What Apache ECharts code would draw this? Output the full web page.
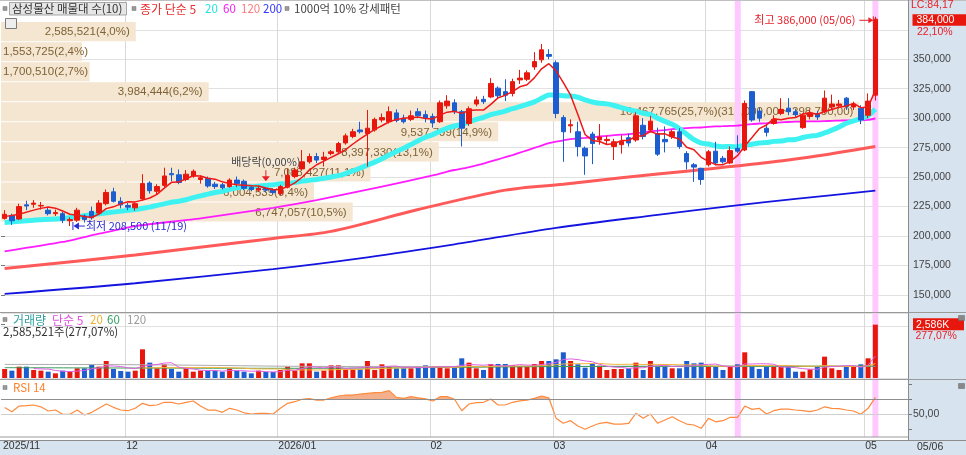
<!DOCTYPE html>
<html><head><meta charset="utf-8">
<script src="https://cdn.jsdelivr.net/npm/echarts@6.0.0/dist/echarts.min.js"></script>
<style>html,body{margin:0;padding:0;background:#fff;}#main{width:966px;height:455px;}</style>
</head><body><div id="main"></div>
<script>
// ---------- categories ----------
const dates = [
'2025-11-06','2025-11-07','2025-11-10','2025-11-11','2025-11-12','2025-11-13','2025-11-14','2025-11-17','2025-11-18','2025-11-19','2025-11-20','2025-11-21','2025-11-24','2025-11-25','2025-11-26','2025-11-27','2025-11-28',
'2025-12-01','2025-12-02','2025-12-03','2025-12-04','2025-12-05','2025-12-08','2025-12-09','2025-12-10','2025-12-11','2025-12-12','2025-12-15','2025-12-16','2025-12-17','2025-12-18','2025-12-19','2025-12-22','2025-12-23','2025-12-24','2025-12-26','2025-12-29','2025-12-30',
'2026-01-02','2026-01-05','2026-01-06','2026-01-07','2026-01-08','2026-01-09','2026-01-12','2026-01-13','2026-01-14','2026-01-15','2026-01-16','2026-01-19','2026-01-20','2026-01-21','2026-01-22','2026-01-23','2026-01-26','2026-01-27','2026-01-28','2026-01-29','2026-01-30',
'2026-02-02','2026-02-03','2026-02-04','2026-02-05','2026-02-06','2026-02-09','2026-02-10','2026-02-11','2026-02-12','2026-02-13','2026-02-19','2026-02-20','2026-02-23','2026-02-24','2026-02-25','2026-02-26','2026-02-27',
'2026-03-03','2026-03-04','2026-03-05','2026-03-06','2026-03-09','2026-03-10','2026-03-11','2026-03-12','2026-03-13','2026-03-16','2026-03-17','2026-03-18','2026-03-19','2026-03-20','2026-03-23','2026-03-24','2026-03-25','2026-03-26','2026-03-27','2026-03-30','2026-03-31',
'2026-04-01','2026-04-02','2026-04-03','2026-04-06','2026-04-07','2026-04-08','2026-04-09','2026-04-10','2026-04-13','2026-04-14','2026-04-15','2026-04-16','2026-04-17','2026-04-20','2026-04-21','2026-04-22','2026-04-23','2026-04-24','2026-04-27','2026-04-28','2026-04-29','2026-04-30',
'2026-05-04','2026-05-06'];
const monthLabels = ['2025/11','12','2026/01','02','03','04','05'];
const strongDays = ['2026-04-07','2026-05-06'];   // 1000억 10% 강세패턴
const exDividendDay = '2025-12-29';

// ---------- price [open, close, low, high] ----------
const ohlc = [
[215000,218500,214000,222000],[217500,213000,209500,219000],[214500,225000,213500,227500],[226500,225500,222000,230000],[227000,228000,224000,230500],
[225500,226000,222500,229000],[222000,219000,217500,224500],[219000,220000,217000,222500],[219000,213500,211000,220500],[213000,214000,208500,216000],
[213500,222000,212000,224000],[217000,214000,211500,218500],[221000,215500,214000,225000],[219500,228000,218500,230500],[227500,237000,226000,239500],
[237500,229500,228500,241000],[229500,226500,223500,233000],[226000,224500,222000,228000],[224000,227500,221500,229000],[231500,244500,230000,252500],
[245000,238500,236000,246500],[238000,242000,235000,244000],[243000,251000,241500,258000],[253000,252000,246500,258000],[252000,245500,244000,256500],
[248000,252500,246500,256000],[251000,255000,249500,256500],[248000,249500,244500,251500],[249000,242500,241000,250500],[244000,242000,240000,246000],
[243500,241000,239500,245000],[242000,247500,241000,249000],[247500,244500,241500,250500],[246500,240500,239000,248000],[241500,239500,238000,243000],
[239000,240500,237500,242500],[240500,239000,237000,241500],[239500,237000,235500,240500],[236000,242000,234500,243500],[241500,251500,240500,257000],
[250500,256000,249000,258000],[257000,263000,256000,273000],[263000,267500,261500,270000],[267500,264500,262000,270500],[265000,267000,259000,271500],
[270000,271500,268500,273000],[271500,278500,270500,280000],[279000,285000,277500,287000],[284500,288500,283000,291000],[290000,288500,287000,297000],
[287000,291500,259000,307000],[290000,299000,288500,300500],[298500,300500,296500,304000],[297000,305500,295500,310000],[304500,298000,296500,307500],
[300000,297000,295500,303000],[299000,302000,297500,306500],[305500,302000,300000,308500],[303000,300000,296500,306500],[301500,296000,292000,304000],
[297000,313000,296000,315000],[310500,314500,308000,319500],[313000,305500,303500,316000],[305500,291500,276000,307000],[295500,308000,293500,310000],
[312000,315500,310000,318500],[316000,314000,312000,319000],[318000,329500,317000,334000],[325500,319000,316500,327000],[322500,319500,314500,333000],
[321000,331000,318500,333500],[332500,334000,329000,341000],[333000,338500,331500,340500],[343500,348000,341000,356000],[349500,358000,347000,363000],
[354000,352500,350000,358500],[347000,304000,300000,349000],[300500,288500,263000,302500],[293500,294500,287500,299000],[288500,276000,267500,297000],
[274500,268000,252000,276000],[286500,278500,261000,288500],[281500,284000,277500,295000],[281000,282000,277300,285500],[276000,280000,264500,282500],
[277500,280500,270000,285500],[283500,279000,276000,287000],[281500,302000,280000,305000],[294000,284500,282000,300000],[290000,297500,288000,302000],
[287000,269500,268000,292000],[282000,280000,271000,293000],[284500,288500,282500,290000],[288500,276000,274000,291500],[270000,263000,256500,272000],
[260500,258500,246000,262000],[257500,248000,243500,258000],[260500,271500,259000,273000],[272000,262000,260000,280000],[266000,263000,261500,268000],
[262000,272500,261000,276000],[274500,272000,270500,285500],[273000,312500,272000,315000],[322500,298500,297000,323000],[306000,300000,297000,309000],
[291500,288000,284500,295000],[295500,299000,294500,302500],[304000,307500,302500,317000],[308500,305500,302500,317000],[305500,303000,300500,308000],
[292000,302500,291000,304000],[301500,304500,299000,307000],[304000,301000,298500,306000],[305500,317000,304000,323500],[309500,312000,307500,320000],
[310500,312000,308500,315500],[317000,310000,307000,318000],[309500,312000,307000,314000],[308500,298500,295000,311000],[302500,314500,300000,321000],
[319500,384000,315000,386000]];

// ---------- volume (shares) ----------
const volumes = [
436000,356000,550000,550000,388000,356000,307000,226000,356000,307000,
469000,469000,630000,550000,825000,436000,340000,307000,356000,1390000,
744000,469000,663000,436000,307000,469000,307000,356000,356000,340000,
307000,436000,356000,307000,226000,356000,291000,291000,388000,550000,
356000,711000,711000,307000,356000,614000,614000,420000,420000,420000,
825000,388000,663000,550000,469000,469000,469000,550000,614000,550000,
550000,469000,550000,954000,744000,469000,388000,679000,679000,679000,
630000,582000,550000,679000,825000,825000,905000,1245000,825000,663000,
501000,711000,598000,388000,436000,436000,469000,744000,388000,825000,
550000,550000,469000,469000,825000,711000,744000,550000,550000,388000,
550000,663000,1245000,550000,436000,550000,550000,550000,550000,307000,
307000,420000,550000,1035000,469000,388000,550000,550000,663000,954000,
2585521];
const volChangeText = '277,07';

// ---------- RSI 14 ----------
const rsi14 = [
59,53.5,61,61.5,62.4,60,54.4,55.7,50,50,
55.7,49,52.6,58,63.7,59.3,55.7,54.8,58,64.6,
61.5,62.4,66,66,63.7,66,67.7,61,55.7,55.7,
52.6,58,55.7,52,50.4,51.3,51.3,50.4,58,64.6,
66.8,70,70.8,69,69,72,74.4,75.7,75.7,77,
78,78.8,79.3,81.5,72.5,71.3,73.5,72,70.6,67.7,
73.5,73.5,70,54.8,63.7,65.5,66,70.4,62.4,62.4,
66,68,69,71.3,74.4,72,44.6,38,41.5,34.4,
30,34.4,38,39.3,37,37,38,51.3,44.6,50.4,
38,42.5,46.8,41.5,37,35.7,31.3,44.6,40,41.5,
46,46,61,56.6,58,50.4,54.8,57,57,55.7,
54.8,53.5,55.7,60,58,57.5,55.7,54.4,50,58,
72.6];
const lcText = 'LC:84,17';

// ---------- moving averages (index, value) before own windows are complete ----------
const ma5Head = [[0,216500],[2,218500]];
const ma20Head = [[0,211500],[4,213500],[8,215000],[13,219000],[18,222500]];
const ma60Head = [[0,187000],[8,195000],[13,202000],[18,208500],[27,215000],[37,224000],[43,230500],[52,242000]];
const ma120Pts = [[0,172500],[18,184000],[37,198000],[45,204000],[57,222500],[69,239000],[77,244000],[85,249500],[95,255700],[108,264500],[120,276000]];
const ma200Pts = [[0,151000],[18,160000],[37,172000],[50,182000],[62,193000],[76,207000],[90,218000],[100,225500],[109,231500],[120,238500]];
const volMa60Pts = [[0,500000],[40,470000],[80,560000],[120,575000]];
const volMa120Pts = [[0,660000],[20,640000],[45,560000],[120,560000]];

// ---------- volume profile (매물대, 10 bands) ----------
const vpEdges = [381500,364500,347500,330500,313500,296500,279500,262500,245500,228500,211500];
const vpVolumes = [2585521,1553725,1700510,3984444,16467765,9537799,8397330,7088427,6004539,6747057];
const vpPercents = ['4,0','2,4','2,7','6,2','25,7','14,9','13,1','11,1','9,4','10,5'];
const vpMaxRange = '(315,000,00 ~ 298,750,00)';

// ================= build =================
const FONT = '"Liberation Sans","Noto Sans CJK KR",sans-serif';
const KFONT = '"Noto Sans CJK KR","Liberation Sans",sans-serif';
const RED = '#e8170e', BLUE = '#1c5dd0';
const N = dates.length;
const cats = dates.concat(['', '', '', '']);
const closes = ohlc.map(d => d[1]);
const fmt = n => Math.round(n).toLocaleString('en-US');
function movingAvg(arr, n, from) {
  const out = [];
  for (let i = from; i < arr.length; i++) {
    let s = 0; for (let j = i - n + 1; j <= i; j++) s += arr[j];
    out.push([i, Math.round(s / n)]);
  }
  return out;
}
const ma5 = ma5Head.concat(movingAvg(closes, 5, 4));
const ma20 = ma20Head.concat(movingAvg(closes, 20, 19));
const ma60 = ma60Head.concat(movingAvg(closes, 60, 59));
const volMa5 = movingAvg(volumes, 5, 4);
const volMa20 = movingAvg(volumes, 20, 19);

const monthStart = [];
dates.forEach((d, i) => { if (i === 0 || d.slice(0, 7) !== dates[i - 1].slice(0, 7)) monthStart.push(i); });
const labelAt = {}; monthStart.forEach((idx, k) => { labelAt[idx] = monthLabels[k]; });

// high / low annotations
let hiIdx = 0, loIdx = 0;
ohlc.forEach((d, i) => { if (d[3] > ohlc[hiIdx][3]) hiIdx = i; if (d[2] < ohlc[loIdx][2]) loIdx = i; });
const mmdd = d => d.slice(5).replace('-', '/');
const exIdx = dates.indexOf(exDividendDay);
const annData = [[hiIdx, ohlc[hiIdx][3], 0], [loIdx, ohlc[loIdx][2], 1], [exIdx, ohlc[exIdx][3], 2]];
const annText = ['최고 ' + fmt(ohlc[hiIdx][3]) + ' (' + mmdd(dates[hiIdx]) + ')',
                 '최저 ' + fmt(ohlc[loIdx][2]) + ' (' + mmdd(dates[loIdx]) + ')',
                 '배당락(0,00%)'];

const vpMaxK = vpVolumes.indexOf(Math.max(...vpVolumes));
const vpData = vpVolumes.map((v, k) => [v, vpEdges[k + 1], vpEdges[k], k]);
const vpLabels = vpVolumes.map((v, k) => fmt(v) + '(' + vpPercents[k] + '%)' + (k === vpMaxK ? vpMaxRange : ''));
const measureCtx = document.createElement('canvas').getContext('2d');
const VP_FONT = '11.5px "Liberation Sans"';
measureCtx.font = VP_FONT;

const volColors = ohlc.map(d => d[1] >= d[0] ? RED : BLUE);
const GL = 1, GR = 58;

const option = {
  animation: false,
  grid: [
    { left: GL, right: GR, top: 0.3, height: 324.2 },   // price (125k..400k)
    { left: GL, right: GR, top: 313, height: 65 },      // volume
    { left: GL, right: GR, top: 384.3, height: 45 },    // rsi (30..90)
    { left: GL, right: GR, top: 0, height: 437 }        // overlay (month lines, labels, highlight)
  ],
  xAxis: [
    { type: 'category', gridIndex: 0, data: cats, show: false },
    { type: 'value', gridIndex: 0, position: 'top', min: 0, max: 17400000, show: false },
    { type: 'category', gridIndex: 1, data: cats, show: false },
    { type: 'category', gridIndex: 2, data: cats, show: false },
    { type: 'category', gridIndex: 3, data: cats,
      axisLine: { show: false }, axisTick: { show: false },
      axisLabel: { interval: (i) => labelAt[i] !== undefined, formatter: (v, i) => labelAt[i] || '',
                   align: 'left', padding: [0, 0, 0, -3], margin: 4, color: '#333', fontSize: 10.5, fontFamily: FONT },
      splitLine: { show: true, interval: (i) => i > 0 && labelAt[i] !== undefined, lineStyle: { color: '#d9d9d9', width: 1 } } }
  ],
  yAxis: [
    { type: 'value', gridIndex: 0, position: 'right', min: 125000, max: 400000, interval: 25000,
      axisLine: { show: false }, axisTick: { show: true, length: 4, lineStyle: { color: '#777' } },
      axisLabel: { margin: 5, color: '#444', fontSize: 10.5, fontFamily: FONT,
                   formatter: v => (v <= 125000 || v >= 375000) ? '' : fmt(v) },
      splitLine: { show: true, showMinLine: false, showMaxLine: false, lineStyle: { color: '#e1e1e1' } } },
    { type: 'value', gridIndex: 1, position: 'right', min: 0, max: 3150000, interval: 2500000,
      axisLine: { show: false }, axisTick: { show: false }, axisLabel: { show: false },
      splitLine: { show: true, lineStyle: { color: '#e1e1e1' } } },
    { type: 'value', gridIndex: 2, position: 'right', min: 30, max: 90, interval: 20,
      axisLine: { show: false }, axisTick: { show: true, length: 4, lineStyle: { color: '#777' } },
      axisLabel: { margin: 5, color: '#444', fontSize: 10.5, fontFamily: FONT, formatter: v => v === 50 ? '50,00' : '' },
      splitLine: { show: false } },
    { type: 'value', gridIndex: 3, min: 0, max: 1, show: false }
  ],
  series: [
    { name: 'vp', type: 'custom', xAxisIndex: 1, yAxisIndex: 0, z: 1, silent: true, data: vpData,
      encode: { x: 0, y: [1, 2] },
      renderItem: (params, api) => {
        const v = api.value(0), lo = api.value(1), hi = api.value(2);
        const p0 = api.coord([0, hi]), p1 = api.coord([v, lo]);
        const label = vpLabels[params.dataIndex];
        const w = measureCtx.measureText(label).width;
        const barW = p1[0] - p0[0];
        let tx, align;
        if (barW - 6 >= w + 3) { tx = p1[0] - 6; align = 'right'; } else { tx = p0[0] + 2; align = 'left'; }
        return { type: 'group', children: [
          { type: 'rect', shape: { x: p0[0], y: p0[1], width: barW, height: Math.max(0, p1[1] - p0[1] - 1) }, style: { fill: '#f5e6d1' } },
          { type: 'text', style: { text: label, x: tx, y: (p0[1] + p1[1]) / 2, textAlign: align, textVerticalAlign: 'middle', fill: '#7f6336', font: VP_FONT } }
        ] };
      } },
    { name: 'strong', type: 'bar', xAxisIndex: 4, yAxisIndex: 3, z: 1, silent: true, barWidth: 6,
      data: cats.map(c => strongDays.includes(c) ? 1 : '-'), itemStyle: { color: '#ffc8ff' } },
    { name: 'MA200', type: 'line', xAxisIndex: 0, yAxisIndex: 0, z: 2, data: ma200Pts, smooth: 0.3, symbol: 'none', lineStyle: { color: '#1414e0', width: 1.8 } },
    { name: 'MA120', type: 'line', xAxisIndex: 0, yAxisIndex: 0, z: 2, data: ma120Pts, smooth: 0.3, symbol: 'none', lineStyle: { color: '#ff5a5a', width: 3 } },
    { name: 'MA60', type: 'line', xAxisIndex: 0, yAxisIndex: 0, z: 2, data: ma60, smooth: 0.2, symbol: 'none', lineStyle: { color: '#ff1cff', width: 1.8 } },
    { name: 'MA20', type: 'line', xAxisIndex: 0, yAxisIndex: 0, z: 2, data: ma20, smooth: 0.2, symbol: 'none', lineStyle: { color: '#3ff2f2', width: 5 } },
    { name: 'price', type: 'candlestick', xAxisIndex: 0, yAxisIndex: 0, z: 3, data: ohlc, barWidth: 5,
      itemStyle: { color: RED, color0: BLUE, borderColor: RED, borderColor0: BLUE, borderWidth: 1 } },
    { name: 'MA5', type: 'line', xAxisIndex: 0, yAxisIndex: 0, z: 4, data: ma5, symbol: 'none', lineStyle: { color: '#ee1818', width: 1.5 } },
    { name: 'ann', type: 'custom', xAxisIndex: 0, yAxisIndex: 0, z: 6, silent: true, data: annData,
      renderItem: (params, api) => {
        const kind = api.value(2);
        const p = api.coord([api.value(0), api.value(1)]);
        const t = annText[params.dataIndex];
        const f = '11px ' + KFONT;
        if (kind === 0) {
          const y = p[1] + 3.5, c = '#e8202a';
          return { type: 'group', children: [
            { type: 'text', style: { text: t, x: p[0] - 20, y: y, textAlign: 'right', textVerticalAlign: 'middle', fill: c, font: f } },
            { type: 'line', shape: { x1: p[0] - 16, y1: y, x2: p[0] - 5, y2: y }, style: { stroke: c, lineWidth: 1 } },
            { type: 'polygon', shape: { points: [[p[0] - 2, y], [p[0] - 7, y - 3], [p[0] - 7, y + 3]] }, style: { fill: c } },
            { type: 'line', shape: { x1: p[0] - 2, y1: y - 4, x2: p[0] - 2, y2: y + 4 }, style: { stroke: c, lineWidth: 1 } }
          ] };
        } else if (kind === 1) {
          const y = p[1], c = '#2a2ad6';
          return { type: 'group', children: [
            { type: 'line', shape: { x1: p[0] + 3, y1: y - 4, x2: p[0] + 3, y2: y + 4 }, style: { stroke: c, lineWidth: 1 } },
            { type: 'polygon', shape: { points: [[p[0] + 3.5, y], [p[0] + 9, y - 3.5], [p[0] + 9, y + 3.5]] }, style: { fill: c } },
            { type: 'line', shape: { x1: p[0] + 8, y1: y, x2: p[0] + 15, y2: y }, style: { stroke: c, lineWidth: 1 } },
            { type: 'text', style: { text: t, x: p[0] + 16, y: y, textAlign: 'left', textVerticalAlign: 'middle', fill: c, font: f } }
          ] };
        } else {
          const c = '#e8202a';
          return { type: 'group', children: [
            { type: 'text', style: { text: t, x: p[0], y: p[1] - 25, textAlign: 'center', textVerticalAlign: 'middle', fill: '#444', font: f } },
            { type: 'line', shape: { x1: p[0], y1: p[1] - 17, x2: p[0], y2: p[1] - 10 }, style: { stroke: c, lineWidth: 1 } },
            { type: 'polygon', shape: { points: [[p[0] - 4, p[1] - 11], [p[0] + 4, p[1] - 11], [p[0], p[1] - 6]] }, style: { fill: c } }
          ] };
        }
      } },
    { name: 'vol', type: 'bar', xAxisIndex: 2, yAxisIndex: 1, z: 3, barWidth: 5,
      data: volumes.map((v, i) => ({ value: v, itemStyle: { color: volColors[i] } })) },
    { name: 'vMA120', type: 'line', xAxisIndex: 2, yAxisIndex: 1, z: 4, data: volMa120Pts, smooth: 0.3, symbol: 'none', lineStyle: { color: '#a9a9a9', width: 1 } },
    { name: 'vMA60', type: 'line', xAxisIndex: 2, yAxisIndex: 1, z: 4, data: volMa60Pts, smooth: 0.3, symbol: 'none', lineStyle: { color: '#3a9a5a', width: 1 } },
    { name: 'vMA20', type: 'line', xAxisIndex: 2, yAxisIndex: 1, z: 4, data: volMa20, symbol: 'none', lineStyle: { color: '#f2b43a', width: 1 } },
    { name: 'vMA5', type: 'line', xAxisIndex: 2, yAxisIndex: 1, z: 4, data: volMa5, symbol: 'none', lineStyle: { color: '#e060e0', width: 1 } },
    { name: 'rsiBase', type: 'line', xAxisIndex: 3, yAxisIndex: 2, z: 3, stack: 'rsi', silent: true, symbol: 'none',
      data: rsi14.map(v => Math.min(v, 70)), lineStyle: { opacity: 0 } },
    { name: 'rsiOver', type: 'line', xAxisIndex: 3, yAxisIndex: 2, z: 3, stack: 'rsi', silent: true, symbol: 'none',
      data: rsi14.map(v => Math.max(v - 70, 0)), lineStyle: { opacity: 0 }, areaStyle: { color: '#f3b08a', opacity: 1 } },
    { name: 'RSI', type: 'line', xAxisIndex: 3, yAxisIndex: 2, z: 4, data: rsi14, symbol: 'none',
      lineStyle: { color: '#ff8a3d', width: 1.2 },
      markLine: { silent: true, symbol: ['none', 'none'], label: { show: false },
        data: [ { yAxis: 70, lineStyle: { color: '#8e8e8e', width: 1, type: 'solid' } },
                { yAxis: 50, lineStyle: { color: '#cfcfcf', width: 1, type: 'solid' } } ] } }
  ]
};

const chart = echarts.init(document.getElementById('main'));
chart.setOption(option);

const lastClose = closes[N - 1], prevClose = closes[N - 2];
const lastVol = volumes[N - 1];
const yPx = chart.convertToPixel({ yAxisIndex: 0 }, lastClose);
const yVol = chart.convertToPixel({ yAxisIndex: 1 }, lastVol);
const pct = ((lastClose / prevClose - 1) * 100).toFixed(2).replace('.', ',');
const sq = (x, y) => ({ type: 'rect', shape: { x: x, y: y, width: 4, height: 4 }, style: { fill: '#9a9a9a', stroke: '#777', lineWidth: 0.5 }, z: 10 });
const txt = (t, x, y, fill, font, extra) => Object.assign({ type: 'text', z: 10, style: Object.assign({ text: t, x: x, y: y, fill: fill, font: font, textVerticalAlign: 'middle' }, extra || {}) });
const ln = (x1, y1, x2, y2, c) => ({ type: 'line', z: 9, shape: { x1: x1, y1: y1, x2: x2, y2: y2 }, style: { stroke: c, lineWidth: 1 } });
const RX = 966 - GR;
const LF = '12px ' + KFONT, LFA = '11.5px ' + KFONT;

chart.setOption({ graphic: { elements: [
  { type: 'rect', z: -1, shape: { x: RX, y: 0, width: GR, height: 440 }, style: { fill: '#d7e3ef' } },
  { type: 'rect', z: -1, shape: { x: 0, y: 440, width: 966, height: 15 }, style: { fill: '#d7e3ef' } },
  ln(0, 0.5, 966, 0.5, '#c0c0c0'),
  ln(RX + 0.5, 0, RX + 0.5, 440, '#8c8c8c'),
  ln(0, 312.5, 966, 312.5, '#9a9a9a'),
  ln(0, 379.5, 966, 379.5, '#9a9a9a'),
  ln(0, 437, RX, 437, '#9a9a9a'),
  ln(0, 440.5, 966, 440.5, '#8c8c8c'),
  // legend line 1
  sq(3, 6.5),
  { type: 'rect', z: 9, shape: { x: 9.5, y: 2.5, width: 117, height: 12.5 }, style: { fill: '#e6e6e6', stroke: '#a5a5a5', lineWidth: 1 } },
  txt('삼성물산 매물대 수(10)', 12, 9, '#333', '11.5px ' + KFONT),
  sq(132, 6.5),
  txt('종가 단순 5', 140, 9, '#e82c2c', LF),
  txt('20', 205, 9, '#22e2e2', LFA),
  txt('60', 223, 9, '#f020f0', LFA),
  txt('120', 241, 9, '#ff7a7a', LFA),
  txt('200', 263, 9, '#3535ff', LFA),
  sq(285, 6.5),
  txt('1000억 10% 강세패턴', 294, 9, '#444', '11.5px ' + KFONT),
  { type: 'rect', z: 10, shape: { x: 5.5, y: 18.5, width: 11, height: 10 }, style: { fill: '#eeeeee', stroke: '#7a7a7a', lineWidth: 1 } },
  ln(6, 21.5, 16, 21.5, '#7a7a7a'), ln(9.5, 21.5, 9.5, 28, '#9a9a9a'), ln(13, 21.5, 13, 28, '#9a9a9a'), ln(6, 25, 16, 25, '#9a9a9a'),
  // volume legend
  sq(3, 317.5),
  txt('거래량', 13, 320, '#2f9e9e', LF),
  txt('단순 5', 52, 320, '#e050e0', LF),
  txt('20', 90, 320, '#f0b030', LFA),
  txt('60', 107, 320, '#35a060', LFA),
  txt('120', 127, 320, '#9a9a9a', LFA),
  txt(fmt(lastVol) + '주(' + volChangeText + '%)', 3, 331.5, '#333', '11.5px ' + KFONT),
  // rsi legend
  sq(3, 385.5),
  txt('RSI 14', 13, 388, '#ff7f2a', LFA),
  // right panel
  txt(lcText, 911, 5.5, '#e8202a', '10.5px ' + FONT),
  { type: 'rect', z: 10, shape: { x: RX + 4.5, y: yPx - 5, width: 966 - RX - 4.5, height: 11.5 }, style: { fill: RED } },
  txt(fmt(lastClose), RX + 8.5, yPx + 1, '#fff', '10.5px ' + FONT),
  txt(pct + '%', RX + 9, yPx + 12.5, '#e8202a', '10.5px ' + FONT),
  { type: 'rect', z: 10, shape: { x: RX + 5, y: yVol - 6.5, width: 51, height: 12 }, style: { fill: RED } },
  txt(fmt(lastVol / 1000) + 'K', RX + 8, yVol, '#fff', '10.5px ' + FONT),
  txt(volChangeText + '%', RX + 7.5, yVol + 11, '#e8202a', '10.5px ' + FONT),
  { type: 'rect', z: 10, shape: { x: 958.5, y: 315.5, width: 6, height: 5 }, style: { fill: '#888', stroke: '#666', lineWidth: 0.5 } },
  { type: 'rect', z: 10, shape: { x: 958.5, y: 383.5, width: 6, height: 5 }, style: { fill: '#888', stroke: '#666', lineWidth: 0.5 } },
  txt(mmdd(dates[N - 1]), RX + 9, 447.5, '#333', '10.5px ' + FONT)
] } });
</script></body></html>
